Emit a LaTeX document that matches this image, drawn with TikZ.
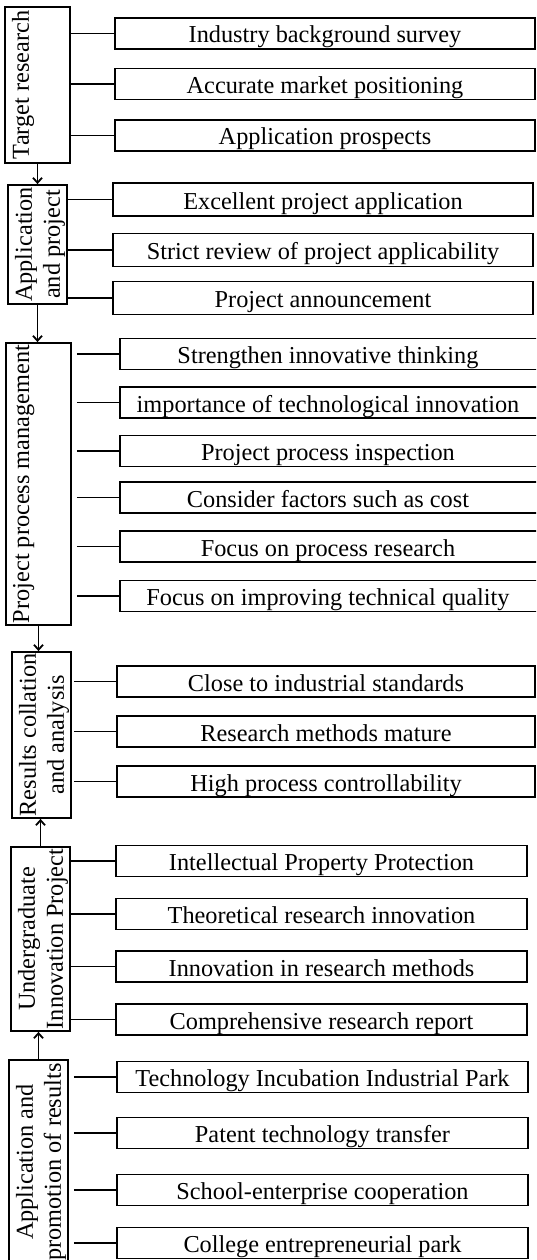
\documentclass[tikz,border=0pt]{standalone}
\usepackage{fontspec}
\setmainfont{Liberation Serif}
\usetikzlibrary{arrows.meta}
\begin{document}
\begin{tikzpicture}[x=1pt, y=-1pt, line width=1.8pt, font=\fontsize{24.3}{28}\selectfont,
  >={Straight Barb[length=5pt,width=9pt]},
  stage/.style={draw, inner sep=0pt},
  stagetext/.style={rotate=90, anchor=north, align=center, inner sep=7pt},
  item/.style={draw, minimum height=31pt, inner sep=0pt, text height=19pt, text depth=0pt}]
\clip (0,0) rectangle (536,1260);
% left column
\node [stage, minimum width=65pt, minimum height=156pt] (tr) at (37.5,85) {};
\node [stagetext] (trt) at (tr.west) {Target research};
\node [stage, minimum width=59pt, minimum height=119pt] (ap) at (37.5,244.5) {};
\node [stagetext] (apt) at (ap.west) {Application\\and project};
\node [stage, minimum width=65pt, minimum height=282pt] (pm) at (38.5,484) {};
\node [stagetext] (pmt) at (pm.west) {Project process management};
\node [stage, minimum width=59pt, minimum height=166pt] (rc) at (41.5,735) {};
\node [stagetext] (rct) at (rc.west) {Results collation\\and analysis};
\node [stage, minimum width=59pt, minimum height=184pt] (ug) at (40.5,939) {};
\node [stagetext] (ugt) at (ug.west) {Undergraduate\\Innovation Project};
\node [stage, minimum width=59pt, minimum height=204pt] (pr) at (38.5,1162) {};
\node [stagetext] (prt) at (pr.west) {Application and\\promotion of results};
\draw [->] (tr.south) -- (ap.north);
\draw [->] (ap.south) -- (ap.south |- pm.north);
\draw [->] (pm.south) -- (pm.south |- rc.north);
\draw [->] (ug.north) -- (ug.north |- rc.south);
\draw [->] (pr.north) -- (pr.north |- ug.south);
% right column
\foreach \i/\y/\t in {1/33.5/Industry background survey, 2/84/Accurate market positioning, 3/135.5/Application prospects}{
  \node [item, minimum width=420pt] (tr\i) at (325,\y) {\t};
  \draw (tr.east |- tr\i.west) -- (tr\i.west);
}
\foreach \i/\y/\t in {1/199.5/Excellent project application, 2/250/Strict review of project applicability, 3/298/Project announcement}{
  \node [item, minimum width=420pt, minimum height=33pt] (ap\i) at (323,\y) {\t};
  \draw (ap.east |- ap\i.west) -- (ap\i.west);
}
\foreach \i/\y/\t in {1/354/Strengthen innovative thinking, 2/402.5/importance of technological innovation, 3/451/Project process inspection, 4/497.5/Consider factors such as cost, 5/546.5/Focus on process research, 6/596/Focus on improving technical quality}{
  \node [item, minimum width=425pt] (pm\i) at (332.5,\y) {\hspace*{-9pt}\t};
  \draw [shorten <=5pt] (pm.east |- pm\i.west) -- (pm\i.west);
}
\foreach \i/\y/\t in {1/681.5/Close to industrial standards, 2/731.5/Research methods mature, 3/781.5/High process controllability}{
  \node [item, minimum width=418pt] (rc\i) at (326,\y) {\t};
  \draw [shorten <=2pt] (rc.east |- rc\i.west) -- (rc\i.west);
}
\foreach \i/\y/\t in {1/861/Intellectual Property Protection, 2/914/Theoretical research innovation, 3/966.5/Innovation in research methods, 4/1019.5/Comprehensive research report}{
  \node [item, minimum width=411pt] (ug\i) at (321.5,\y) {\t};
  \draw (ug.east |- ug\i.west) -- (ug\i.west);
}
\foreach \i/\y/\t in {1/1077/Technology Incubation Industrial Park, 2/1133/Patent technology transfer, 3/1190/School-enterprise cooperation, 4/1243/College entrepreneurial park}{
  \node [item, minimum width=411pt] (pr\i) at (322.5,\y) {\t};
  \draw [shorten <=5pt] (pr.east |- pr\i.west) -- (pr\i.west);
}
\end{tikzpicture}
\end{document}
